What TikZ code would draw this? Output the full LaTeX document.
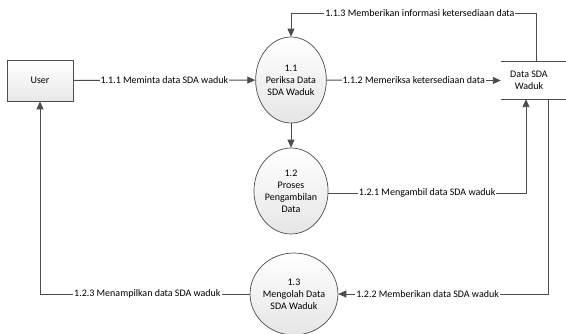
\documentclass[tikz,border=0pt]{standalone}
\usepackage{fontspec}
\setmainfont{Carlito}
\usetikzlibrary{arrows.meta,shapes.geometric}
\begin{document}
\begin{tikzpicture}[x=1pt,y=-1pt,
  font=\fontsize{10}{12}\selectfont,
  line/.style={draw=black!70, line width=0.9pt},
  flow/.style={line, -{Triangle[length=8pt,width=7pt]}},
  proc/.style={ellipse, draw=black!70, line width=0.7pt, top color=white, bottom color=gray!20,
    minimum width=66pt, minimum height=86pt, align=center, inner sep=0pt},
  entity/.style={rectangle, draw=black!70, line width=0.9pt, top color=white, bottom color=gray!18,
    minimum width=66pt, minimum height=41pt},
  lbl/.style={fill=white, inner sep=1pt}]
\useasboundingbox (0,0) rectangle (566,334);

% external entity, processes and data store
\node[entity] (user) at (40,80.5) {User};
\node[proc] (p11) at (291,80) {1.1\\Periksa Data\\SDA Waduk};
\node[proc, minimum width=68pt] (p12) at (291,191) {1.2\\Proses\\Pengambilan\\Data};
\node[proc, minimum width=72pt, minimum height=82pt] (p13) at (294,294) {1.3\\Mengolah Data\\SDA Waduk};
\node[minimum width=56pt, minimum height=37pt, align=center, inner sep=0pt] (store) at (529,80.5) {Data SDA\\Waduk};
\draw[line] (store.north west) -- ++(66,0);
\draw[line] (store.south west) -- ++(66,0);

% bend points of the routed flows
\coordinate (c113) at (536,13);
\coordinate (c121) at (526,193);
\coordinate (c122) at (548,294);

% data flows
\draw[flow] (user) -- node[lbl] {1.1.1 Meminta data SDA waduk} (p11);
\draw[flow] (p11) -- node[lbl] {1.1.2 Memeriksa ketersediaan data} (store.west);
\draw[flow] (c113 |- store.north) -- (c113) -| node[lbl, pos=0.237] {1.1.3 Memberikan informasi ketersediaan data} (p11.north);
\draw[flow] (p11) -- (p12);
\draw[flow] (p12.east |- c121) -| node[lbl, pos=0.25] {1.2.1 Mengambil data SDA waduk} (c121 |- store.south);
\draw[flow] (c122 |- store.south) |- node[lbl, pos=0.787] {1.2.2 Memberikan data SDA waduk} (p13.east);
\draw[flow] (p13.west) -| node[lbl, pos=0.244] {1.2.3 Menampilkan data SDA waduk} (user.south);
\end{tikzpicture}
\end{document}
